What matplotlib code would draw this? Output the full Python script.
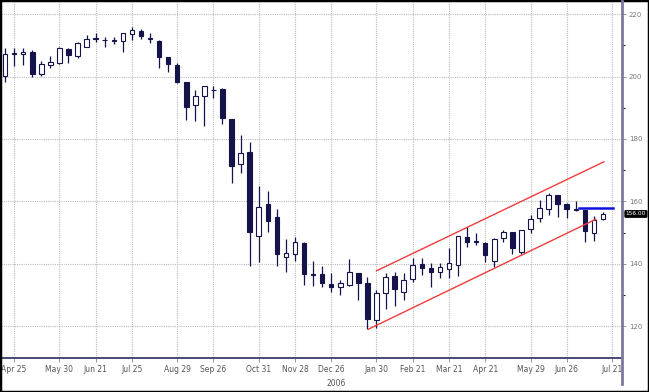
import numpy as np
import matplotlib
matplotlib.use('Agg')
import matplotlib.pyplot as plt
from matplotlib.lines import Line2D
from matplotlib.patches import Rectangle

plt.rcParams['font.family'] = ['Liberation Sans Narrow', 'DejaVu Sans']

# 周线 OHLC (2005-04 ~ 2006-07)
opens = [200.2, 207.2, 207.1, 207.9, 200.8, 203.7, 204.2, 208.7, 206.7, 209.5,
         212.0, 211.8, 211.5, 211.4, 213.5, 214.6, 212.4, 211.5, 206.3, 203.7,
         198.1, 190.9, 193.8, 195.8, 196.0, 186.3, 171.9, 175.9, 149.0, 159.1,
         155.1, 142.1, 143.1, 146.8, 136.9, 136.7, 133.6, 132.7, 133.3, 137.0,
         133.8, 122.1, 130.8, 136.2, 131.1, 135.1, 139.9, 138.6, 137.3, 138.3,
         139.7, 148.7, 147.2, 146.8, 141.1, 148.4, 150.3, 143.9, 151.1, 154.6,
         157.5, 162.1, 159.1, 157.5, 157.3, 150.0, 154.3]
highs = [209.0, 209.0, 209.0, 208.5, 205.1, 206.6, 209.5, 209.0, 211.1, 213.3,
         214.0, 212.5, 212.5, 214.0, 215.9, 215.1, 213.8, 211.7, 206.3, 204.2,
         198.1, 195.7, 197.1, 197.1, 196.2, 186.3, 181.3, 179.1, 165.0, 163.5,
         157.5, 147.9, 148.7, 147.1, 141.0, 139.4, 137.0, 134.9, 141.5, 137.0,
         135.9, 131.7, 137.2, 137.5, 137.0, 141.8, 141.8, 140.4, 140.2, 145.0,
         149.0, 151.9, 150.0, 147.1, 148.2, 150.9, 150.3, 150.9, 155.7, 160.5,
         162.6, 162.1, 159.4, 160.3, 157.3, 155.4, 156.5]
lows = [198.3, 203.5, 203.7, 199.9, 200.2, 202.6, 204.0, 204.2, 205.8, 209.3,
        211.1, 209.5, 210.4, 207.9, 211.7, 211.9, 210.8, 202.6, 201.5, 197.8,
        186.1, 185.9, 184.2, 193.2, 184.7, 166.0, 169.0, 139.4, 140.7, 150.3,
        139.4, 137.5, 141.1, 133.3, 133.0, 132.5, 131.1, 130.1, 133.0, 128.5,
        119.1, 119.4, 125.5, 126.6, 128.5, 134.3, 136.5, 132.7, 135.4, 135.4,
        136.0, 145.5, 146.1, 140.7, 138.9, 147.1, 143.2, 143.2, 149.8, 153.5,
        155.7, 155.1, 154.6, 156.9, 147.1, 147.5, 154.2]
closes = [207.2, 207.5, 207.9, 200.8, 203.9, 204.7, 209.2, 206.9, 210.8, 212.0,
          212.3, 211.6, 211.6, 213.8, 214.9, 213.0, 212.0, 206.3, 204.0, 198.1,
          190.3, 193.8, 197.1, 195.6, 186.6, 171.5, 175.6, 150.3, 158.3, 153.8,
          143.2, 143.4, 147.0, 136.8, 136.5, 133.8, 132.5, 134.0, 137.3, 133.8,
          122.4, 130.8, 135.9, 131.9, 134.9, 139.7, 138.6, 137.5, 138.9, 140.2,
          149.0, 147.1, 147.0, 142.9, 147.9, 150.3, 145.0, 150.9, 154.3, 157.8,
          162.1, 159.2, 157.5, 157.2, 150.6, 154.1, 156.0]

# x轴标签 (对应周序号)
tick_idx = [1, 6, 10, 14, 19, 23, 28, 32, 36, 41, 45, 49, 53, 58, 62, 67]
tick_lbl = ['Apr 25', 'May 30', 'Jun 21', 'Jul 25', 'Aug 29', 'Sep 26', 'Oct 31', 'Nov 28',
            'Dec 26', 'Jan 30', 'Feb 21', 'Mar 21', 'Apr 21', 'May 29', 'Jun 26', 'Jul 21']

# 通道线 与 阻力线
chan_low_x = [40.1, 65.2]
chan_low_y = [119.1, 154.3]
chan_up_x = [41.0, 66.1]
chan_up_y = [137.8, 172.7]
resist_x = [63.3, 67.1]
resist_y = [157.8, 157.8]

navy = '#14144a'
W, H = 649, 392
fig = plt.figure(figsize=(W / 100, H / 100), dpi=100)
ax = fig.add_axes([1 / W, (H - 358) / H, 621 / W, 356 / H])

x = np.arange(len(opens))
o = np.array(opens); c = np.array(closes)
up = c >= o
ax.vlines(x, lows, highs, color=navy, lw=0.9, zorder=2)
bottoms = np.minimum(o, c)
heights = np.abs(c - o)
ax.bar(x, heights, bottom=bottoms, width=0.5,
       color=np.where(up, 'white', navy), edgecolor=navy, linewidth=0.8, zorder=3)

ax.plot(chan_low_x, chan_low_y, color='#f03c3c', lw=1.0, zorder=4)
ax.plot(chan_up_x, chan_up_y, color='#f03c3c', lw=1.0, zorder=4)
ax.plot(resist_x, resist_y, color='#1010e0', lw=1.8, zorder=4)

ax.set_xlim(-0.45, 68.1)
ax.set_ylim(109.9, 223.85)

ax.set_xticks(tick_idx)
ax.set_xticklabels(tick_lbl)
ax.set_yticks(np.arange(120, 221, 20))
ax.set_yticks(np.arange(130, 220, 20), minor=True)
ax.yaxis.tick_right()
ax.tick_params(axis='x', direction='out', length=3, width=0.6, color='#888888',
               labelsize=5.5, labelcolor='#555555', pad=2)
ax.tick_params(axis='y', which='major', direction='out', length=3, width=0.6, color='#888888',
               labelsize=5, labelcolor='#777777', pad=2)
ax.tick_params(axis='y', which='minor', direction='out', length=2, width=0.8, color=navy)
ax.grid(True, which='major', color='#bcbcbc', lw=0.8, ls=(0, (1, 1)))
ax.set_axisbelow(True)

for s in ['top', 'left', 'right']:
    ax.spines[s].set_visible(False)
ax.spines['bottom'].set_color('#2a2a5a')
ax.spines['bottom'].set_linewidth(1.2)

# 右侧价格轴线
fig.add_artist(Line2D([622 / W, 622 / W], [(H - 1) / H, (H - 384) / H],
                      color='#7b7b9b', lw=2.0))

# 最新价标签
ax.text(1.006, closes[-1], '%.2f' % closes[-1], transform=ax.get_yaxis_transform(),
        fontsize=4.2, color='white', va='center', ha='left',
        bbox=dict(boxstyle='round,pad=0.12', fc='black', ec='black'))

ax.text(36.5, -0.06, '2006', transform=ax.get_xaxis_transform(),
        fontsize=5.5, color='#555555', ha='center', va='top')

# 外框
fig.add_artist(Rectangle((0, 0), 1, 1, transform=fig.transFigure,
                         fill=False, ec='black', lw=2.5))

fig.savefig('out.png', dpi=100)
